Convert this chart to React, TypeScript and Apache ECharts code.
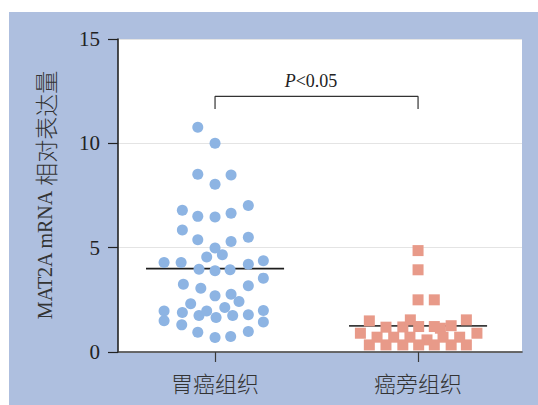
import React, { useEffect, useRef } from "react";
import * as echarts from "echarts";

// Category labels (x positions 0 and 1)
const categories = ["胃癌组织", "癌旁组织"];
const yTicks = [0, 5, 10, 15];
const yAxisNameLatin = "MAT2A mRNA";
const yAxisNameCJK = "相对表达量";
const pText = "P<0.05";

// Gastric cancer tissue: [horizontal jitter offset, relative expression]
const gastricPoints: [number, number][] = [
  [-0.085, 10.77], [0, 10.0], [-0.085, 8.52], [0, 8.04], [0.079, 8.48],
  [-0.161, 6.79], [-0.085, 6.5], [0, 6.47], [0.079, 6.65], [0.164, 7.02],
  [-0.161, 5.85], [-0.085, 5.38], [0.079, 5.3], [0.164, 5.5], [0, 4.98],
  [-0.041, 4.55], [0.036, 4.66], [-0.251, 4.29], [-0.167, 4.29], [-0.079, 3.97],
  [0, 3.89], [0.074, 3.94], [0.164, 4.21], [0.238, 4.37], [0.238, 3.54],
  [-0.156, 3.25], [-0.07, 3.06], [0.164, 3.17], [0, 2.69], [0.079, 2.77],
  [0.118, 2.42], [-0.12, 2.31], [0.048, 2.13], [-0.251, 1.97], [-0.161, 1.89],
  [-0.079, 1.75], [-0.041, 1.97], [0.005, 1.65], [0.087, 1.75], [0.164, 1.78],
  [0.238, 1.99], [-0.251, 1.5], [-0.164, 1.3], [0.238, 1.44], [-0.085, 0.95],
  [0, 0.69], [0.077, 0.74], [0.164, 0.98],
];

// Adjacent tissue: [horizontal jitter offset, relative expression]
const adjacentPoints: [number, number][] = [
  [0, 4.86], [0, 3.94], [0, 2.5], [0.08, 2.5],
  [-0.24, 1.49], [-0.158, 1.19], [-0.075, 1.2], [-0.038, 1.54], [0.003, 1.22],
  [0.08, 1.22], [0.11, 1.14], [0.163, 1.26], [0.238, 1.54], [-0.284, 0.9], [0.29, 0.9],
  [-0.202, 0.71], [-0.12, 0.71], [-0.04, 0.71], [0.044, 0.58], [0.123, 0.71], [0.205, 0.71],
  [-0.24, 0.34], [-0.158, 0.34], [-0.075, 0.34], [0.003, 0.34], [0.08, 0.34], [0.163, 0.34], [0.238, 0.34],
];

const groupMeans = [4.0, 1.25];
const bracketTop = 12.25;
const bracketBottom = 11.65;

export default function App() {
  const ref = useRef<HTMLDivElement>(null);

  useEffect(() => {
    if (!ref.current) return;
    const chart = echarts.init(ref.current, null, { renderer: "svg" });
    const halfMean = 0.34;
    const serif = "'Liberation Serif', 'Noto Sans CJK SC', serif";
    const cjk = "'Noto Sans CJK SC', sans-serif";

    chart.setOption({
      animation: false,
      backgroundColor: "transparent",
      grid: {
        left: 118,
        right: 16,
        top: 39,
        bottom: 53,
        show: true,
        backgroundColor: "#ffffff",
        borderWidth: 0,
      },
      xAxis: {
        type: "value",
        min: -0.478,
        max: 1.512,
        axisLine: { show: true, onZero: false, lineStyle: { color: "#3a3a3a", width: 1.6 } },
        axisTick: {
          show: true,
          length: 10,
          customValues: [0, 1],
          lineStyle: { color: "#3a3a3a", width: 1.2 },
        },
        axisLabel: {
          show: true,
          customValues: [0, 1],
          formatter: (v: number) => categories[Math.round(v)] ?? "",
          fontSize: 22,
          fontFamily: cjk,
          fontWeight: 300,
          color: "#333",
          margin: 19,
        },
        splitLine: { show: false },
      },
      yAxis: {
        type: "value",
        min: 0,
        max: 15,
        interval: 5,
        name: "{l|" + yAxisNameLatin + " }{c|" + yAxisNameCJK + "}",
        nameLocation: "middle",
        nameRotate: 90,
        nameGap: 62,
        nameTextStyle: {
          color: "#333",
          rich: {
            l: { fontSize: 20, fontFamily: serif, color: "#333" },
            c: { fontSize: 23, fontFamily: cjk, color: "#333", fontWeight: 300 },
          },
        },
        axisLine: { show: true, onZero: false, lineStyle: { color: "#222", width: 1.6 } },
        axisTick: { show: true, inside: false, length: 10, lineStyle: { color: "#222", width: 1.2 } },
        axisLabel: {
          fontSize: 21,
          fontFamily: serif,
          color: "#222",
          margin: 18,
          formatter: (v: number) => (yTicks.includes(v) ? String(v) : ""),
        },
        splitLine: { show: true, lineStyle: { color: "#e4e4e4", width: 1.2 } },
      },
      graphic: [
        {
          type: "text",
          x: 311,
          y: 81,
          style: {
            text: "{i|P}{n|" + pText.slice(1) + "}",
            rich: {
              i: { fontStyle: "italic", fontSize: 18, fontFamily: serif, fill: "#222" },
              n: { fontSize: 18, fontFamily: serif, fill: "#222" },
            },
            align: "center",
            verticalAlign: "middle",
          },
        },
      ],
      series: [
        {
          type: "line",
          data: [
            [-halfMean, groupMeans[0]],
            [halfMean, groupMeans[0]],
          ],
          symbol: "none",
          lineStyle: { color: "#1e1e1e", width: 1.8 },
          z: 1,
          silent: true,
        },
        {
          type: "line",
          data: [
            [1 - halfMean, groupMeans[1]],
            [1 + halfMean, groupMeans[1]],
          ],
          symbol: "none",
          lineStyle: { color: "#3a3a3a", width: 1.8 },
          z: 1,
          silent: true,
        },
        {
          type: "line",
          data: [
            [0, bracketBottom],
            [0, bracketTop],
            [1, bracketTop],
            [1, bracketBottom],
          ],
          symbol: "none",
          lineStyle: { color: "#333", width: 1.2 },
          z: 1,
          silent: true,
        },
        {
          type: "scatter",
          data: gastricPoints.map(([dx, v]) => [0 + dx, v]),
          symbol: "circle",
          symbolSize: 11,
          itemStyle: { color: "#8db4e3", opacity: 1 },
          z: 3,
        },
        {
          type: "scatter",
          data: adjacentPoints.map(([dx, v]) => [1 + dx, v]),
          symbol: "rect",
          symbolSize: 11,
          itemStyle: { color: "#e89a89", opacity: 1 },
          z: 3,
        },
      ],
    });

    return () => chart.dispose();
  }, []);

  return (
    <div style={{ position: "absolute", left: 0, top: 0, width: 538, height: 405, background: "#ffffff" }}>
      <div style={{ position: "absolute", left: 9, top: 12, width: 529, height: 393, background: "#aebfdf" }} />
      <div ref={ref} style={{ position: "absolute", left: 0, top: 0, width: 538, height: 405 }} />
    </div>
  );
}
